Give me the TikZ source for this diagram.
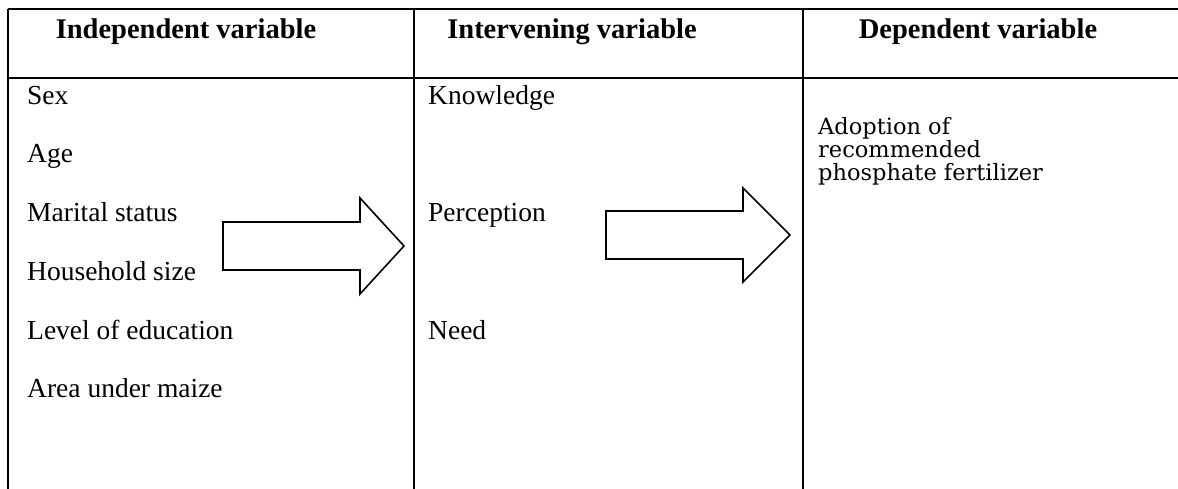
\documentclass[tikz,border=0pt]{standalone}
\usepackage{fontspec}
\setmainfont{Liberation Serif}
\newfontfamily\depfont{DejaVu Serif}
\begin{document}
\begin{tikzpicture}[x=1pt,y=-1pt,
  rule/.style={line width=1.6pt,black},
  head/.style={font=\fontsize{28.5}{32}\selectfont\bfseries,anchor=base,inner sep=0pt},
  item/.style={font=\fontsize{27.5}{32}\selectfont,anchor=base west,inner sep=0pt},
  dep/.style={font=\depfont\fontsize{22.5}{24}\selectfont,anchor=base west,inner sep=0pt},
  bigarrow/.style={line width=1.6pt,black,fill=white,line join=miter}]
\useasboundingbox (0,0) rectangle (1178,489);
% table rules
\coordinate (tl) at (8,9);
\coordinate (tr) at (1178,9);
\coordinate (hl) at (8,78);
\coordinate (hr) at (1178,78);
\coordinate (bl) at (8,489);
\coordinate (d1t) at (414,9);
\coordinate (d1b) at (414,489);
\coordinate (d2t) at (803,9);
\coordinate (d2b) at (803,489);
\draw[rule] (tl) -- (tr);
\draw[rule] (hl) -- (hr);
\draw[rule] (tl) -- (bl);
\draw[rule] (d1t) -- (d1b);
\draw[rule] (d2t) -- (d2b);
% headers
\node[head] (h1) at (186,39) {Independent variable};
\node[head] (h2) at (572,39) {Intervening variable};
\node[head] (h3) at (978,39) {Dependent variable};
% column 1
\node[item] (sex) at (27,105) {Sex};
\node[item] (age) at (27,163) {Age};
\node[item] (mar) at (27,222) {Marital status};
\node[item] (hh) at (27,280) {Household size};
\node[item] (edu) at (27,339) {Level of education};
\node[item] (area) at (27,397) {Area under maize};
% column 2
\node[item] (know) at (428,105) {Knowledge};
\node[item] (perc) at (428,222) {Perception};
\node[item] (need) at (428,339) {Need};
% column 3
\node[dep] (adopt) at (818,135) {Adoption of};
\node[dep] (recom) at (818,158) {recommended};
\node[dep] (phos) at (818,181) {phosphate fertilizer};
% arrows
\draw[bigarrow] (223,222) -- (360,222) -- (360,198) -- (404,246) -- (360,294) -- (360,270) -- (223,270) -- cycle;
\draw[bigarrow] (606,211) -- (743,211) -- (743,188) -- (790,235) -- (743,282) -- (743,259) -- (606,259) -- cycle;
\end{tikzpicture}
\end{document}
